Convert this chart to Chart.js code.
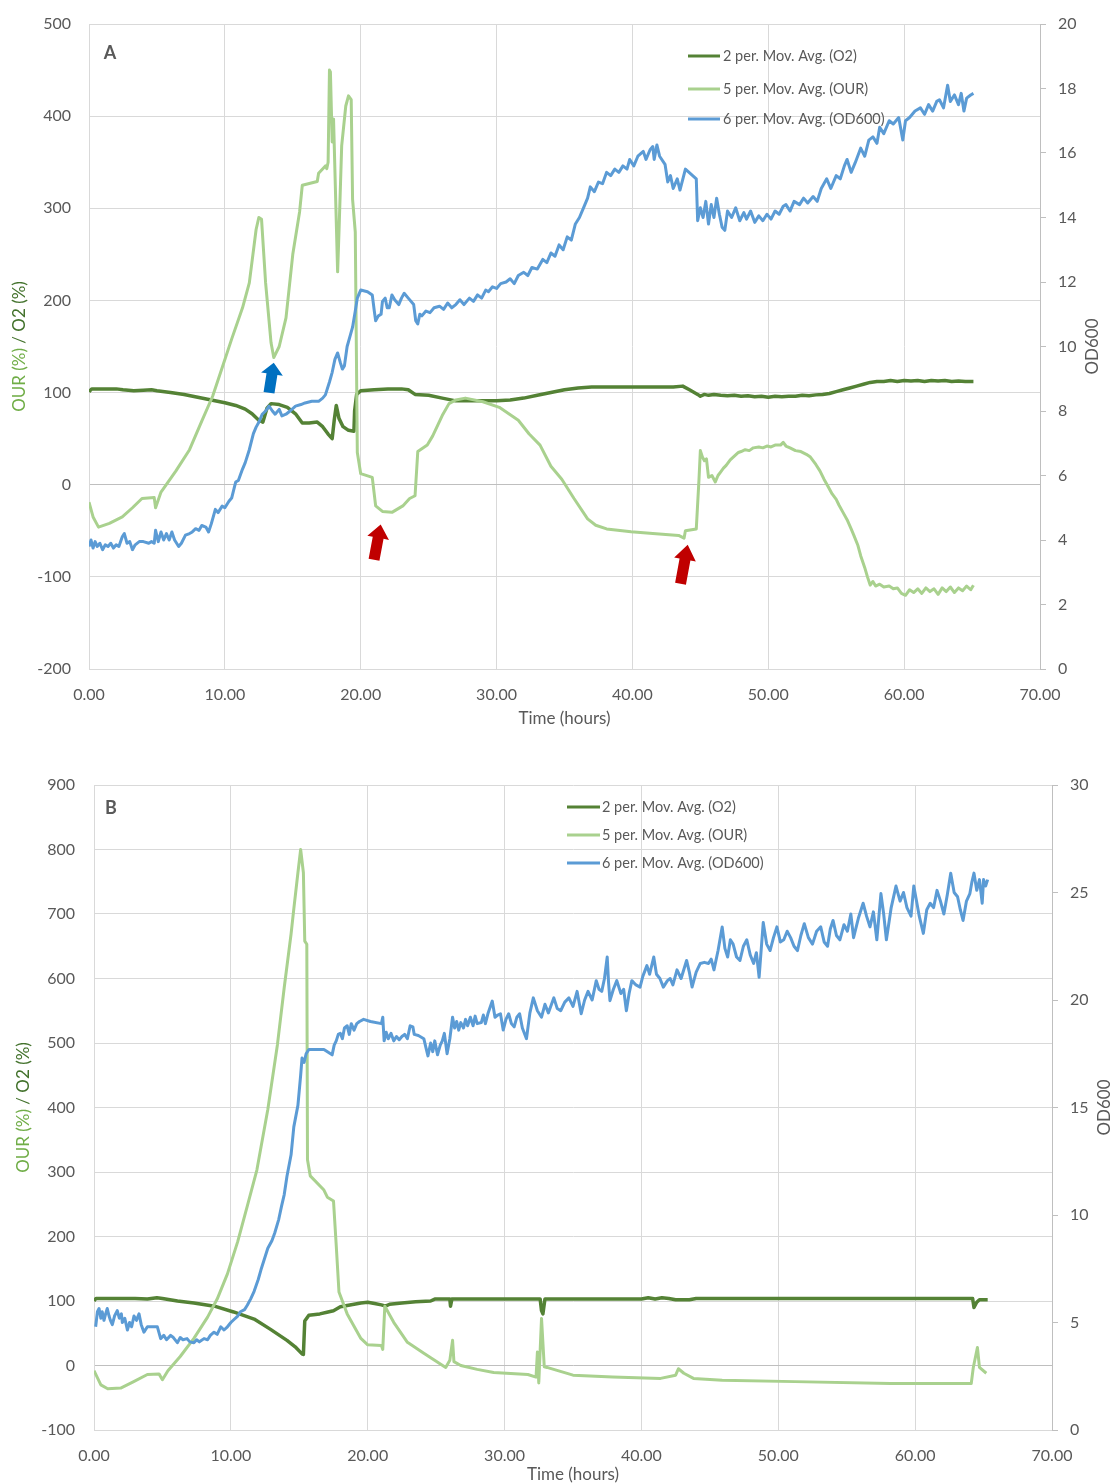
<!DOCTYPE html>
<html>
<head>
<meta charset="utf-8">
<script src="https://cdn.jsdelivr.net/npm/chart.js@4.4.1/dist/chart.umd.min.js"></script>
<style>
  body { margin: 0; background: #fff; }
  canvas { display: block; }
</style>
</head>
<body>
<canvas id="chartA" width="1112" height="745"></canvas>
<canvas id="chartB" width="1112" height="739"></canvas>
<script>
// series labels (same for both runs)
var seriesNames = ['2 per. Mov. Avg. (O2)', '5 per. Mov. Avg. (OUR)', '6 per. Mov. Avg. (OD600)'];

// ---- run A : [time (h), value] ----
var a_o2 = [[0,101],[0.2,104],[1,104],[2,104],[2.5,103],[3.3,102],[4,102.5],[4.6,103],[5,102],[6,100],[7,98],[8,95],[9,92],[10,89],[10.8,86],[11.5,82],[12,77],[12.5,70],[12.8,68],[13.1,83],[13.4,88],[14,87],[14.6,84],[15.2,77],[15.7,67],[16.2,67],[16.8,68],[17.2,63],[17.6,55],[17.9,50],[18.05,70],[18.2,86],[18.4,72],[18.7,63],[19.1,59],[19.5,58],[19.55,80],[19.7,98],[20,102],[21,103],[22,104],[23,104],[23.5,103],[24,98],[25,97],[26,94],[27,91],[28,91],[29,91],[30,91],[31,92],[32,94],[33,97],[34,100],[35,103],[36,105],[37,106],[38,106],[40,106],[42,106],[43,106],[43.7,107],[44.2,103],[44.8,98],[45,96],[45.3,98],[45.6,97],[46,98],[46.5,97],[47,96.5],[47.5,97],[48,96],[48.5,96.5],[49,95.5],[49.5,96],[50,95],[50.5,96],[51,95.5],[51.5,96],[52,96],[52.5,97],[53,96.5],[53.5,97.5],[54,98],[54.5,99],[55,101],[55.5,103],[56,105],[56.5,107],[57,109],[57.5,111],[58,112],[58.5,112],[59,113],[59.5,112],[60,113],[60.5,112.5],[61,113],[61.5,112],[62,113],[62.5,112.5],[63,113],[63.5,112],[64,112.5],[64.5,112],[65.1,112]];

var a_our = [[0,-19],[0.3,-35],[0.7,-46],[1.5,-42],[2.45,-35],[3.2,-25],[3.9,-15],[4.8,-14],[4.9,-25],[5.3,-8],[6.4,15],[7.4,38],[8.3,69],[9.1,96],[9.8,127],[10.5,158],[11.3,192],[11.8,219],[12.3,277],[12.5,290],[12.7,288],[13.0,219],[13.4,154],[13.6,138],[14.0,150],[14.5,181],[15.0,250],[15.5,296],[15.7,325],[16.8,329],[16.9,338],[17.4,346],[17.5,343],[17.6,350],[17.7,450],[17.77,448],[17.9,372],[18.0,397],[18.3,231],[18.4,274],[18.6,368],[18.9,411],[19.1,422],[19.3,418],[19.4,310],[19.6,274],[19.75,35],[20.0,12],[20.85,8],[21.1,-23],[21.6,-29],[22.3,-30],[23.1,-23],[23.6,-15],[24.0,-12],[24.2,36],[24.9,43],[25.3,53],[26.0,75],[26.5,88],[27.0,92],[27.7,94],[29.0,90],[30.2,84],[30.9,77],[31.6,70],[32.4,55],[33.2,43],[34.0,20],[34.8,6],[35.7,-15],[36.7,-37],[37.3,-44],[38.1,-48],[39.9,-51],[41.5,-53],[43.4,-55],[43.8,-58],[43.9,-50],[44.7,-48],[44.9,6],[45.0,37],[45.15,30],[45.3,26],[45.45,28],[45.6,8],[45.85,10],[46.1,3],[46.3,10],[46.5,14],[46.7,18],[46.9,21],[47.2,27],[47.5,31],[47.8,35],[48.0,36],[48.3,38],[48.6,37],[48.9,40],[49.3,41],[49.6,40],[49.9,42],[50.2,41],[50.5,43],[50.9,43],[51.1,46],[51.3,42],[51.6,40],[52.0,37],[52.4,36],[52.8,33],[53.1,30],[53.5,22],[53.8,15],[54.1,6],[54.4,-2],[54.7,-10],[55.0,-16],[55.2,-22],[55.5,-30],[55.8,-38],[56.1,-48],[56.3,-55],[56.6,-66],[56.8,-77],[57.1,-90],[57.3,-100],[57.5,-109],[57.7,-105],[57.9,-110],[58.2,-108],[58.5,-111],[58.9,-110],[59.2,-113],[59.5,-112],[59.8,-118],[60.1,-120],[60.4,-114],[60.7,-117],[61.0,-113],[61.3,-118],[61.6,-112],[61.9,-116],[62.2,-113],[62.5,-119],[62.8,-112],[63.1,-116],[63.4,-111],[63.7,-117],[64.0,-112],[64.3,-115],[64.6,-110],[64.9,-114],[65.1,-109]];

var a_od = [[0,3.8],[0.15,4.0],[0.3,3.75],[0.45,3.95],[0.6,3.8],[0.8,3.9],[1.0,3.7],[1.2,3.85],[1.4,3.8],[1.6,3.9],[1.8,3.75],[2.0,3.85],[2.2,3.8],[2.45,4.1],[2.6,4.2],[2.8,3.9],[3.0,3.95],[3.2,3.7],[3.4,3.85],[3.7,3.95],[4.0,3.95],[4.4,3.9],[4.6,3.95],[4.8,3.9],[4.9,4.3],[5.1,3.95],[5.3,4.25],[5.5,4.0],[5.7,4.2],[5.9,4.0],[6.1,4.25],[6.3,4.0],[6.6,3.8],[6.8,3.9],[7.1,4.15],[7.4,4.2],[7.6,4.25],[7.85,4.35],[8.1,4.3],[8.3,4.45],[8.6,4.4],[8.8,4.25],[9.0,4.5],[9.3,4.95],[9.5,4.85],[9.8,5.05],[10.0,5.0],[10.3,5.2],[10.5,5.3],[10.8,5.8],[11.0,5.85],[11.3,6.2],[11.5,6.4],[11.8,6.8],[12.1,7.3],[12.3,7.5],[12.5,7.65],[12.75,7.9],[13.0,8.0],[13.25,8.15],[13.5,8.0],[13.7,7.9],[14.0,8.05],[14.2,7.85],[14.5,7.9],[14.8,8.0],[15.2,8.15],[15.6,8.2],[15.9,8.25],[16.4,8.3],[16.9,8.3],[17.2,8.4],[17.4,8.5],[17.7,8.9],[17.9,9.2],[18.1,9.6],[18.3,9.8],[18.5,9.5],[18.65,9.3],[18.8,9.4],[19.0,10.0],[19.2,10.3],[19.4,10.6],[19.6,11.1],[19.75,11.5],[20.0,11.75],[20.5,11.7],[20.85,11.6],[21.0,11.1],[21.1,10.8],[21.3,10.95],[21.5,11.0],[21.6,11.4],[21.8,11.5],[21.95,11.2],[22.1,11.2],[22.3,11.6],[22.5,11.45],[22.8,11.3],[23.0,11.5],[23.2,11.65],[23.5,11.5],[23.9,11.3],[24.05,10.8],[24.2,10.7],[24.35,11.0],[24.5,10.95],[24.8,11.1],[25.1,11.05],[25.4,11.2],[25.8,11.25],[26.1,11.15],[26.4,11.35],[26.7,11.2],[27,11.3],[27.3,11.45],[27.6,11.3],[28,11.5],[28.3,11.4],[28.6,11.6],[28.9,11.5],[29.2,11.75],[29.4,11.7],[29.7,11.85],[30.0,11.8],[30.3,11.95],[30.7,12.0],[31.0,12.1],[31.3,11.95],[31.6,12.2],[32.0,12.3],[32.3,12.2],[32.6,12.45],[33.0,12.4],[33.4,12.7],[33.7,12.6],[34.0,12.9],[34.3,12.8],[34.6,13.15],[34.9,13.0],[35.2,13.4],[35.5,13.3],[35.8,13.8],[36.1,14.0],[36.4,14.3],[36.7,14.6],[36.9,14.95],[37.2,14.8],[37.5,15.1],[37.8,15.05],[38.1,15.4],[38.4,15.3],[38.7,15.5],[39.0,15.4],[39.3,15.6],[39.6,15.5],[39.8,15.8],[40.1,15.6],[40.4,15.9],[40.8,16.05],[41.0,15.8],[41.3,16.1],[41.5,16.2],[41.6,15.8],[41.8,16.25],[42.0,15.9],[42.4,15.65],[42.6,15.1],[42.8,15.3],[43.0,14.9],[43.3,15.2],[43.5,14.85],[43.9,15.5],[44.7,15.2],[44.8,13.9],[45.0,14.3],[45.2,14.0],[45.4,14.5],[45.6,13.8],[45.8,14.4],[46.0,14.0],[46.2,14.6],[46.4,14.1],[46.6,13.7],[46.8,13.6],[47.0,14.2],[47.3,14.0],[47.6,14.3],[47.9,13.9],[48.2,14.15],[48.4,13.95],[48.7,14.2],[49.0,13.85],[49.3,14.05],[49.6,13.9],[49.9,14.1],[50.2,13.95],[50.5,14.2],[50.8,14.1],[51.1,14.35],[51.3,14.4],[51.6,14.2],[51.9,14.5],[52.3,14.4],[52.6,14.6],[52.9,14.45],[53.3,14.65],[53.6,14.5],[53.9,14.9],[54.3,15.2],[54.6,14.9],[55.0,15.3],[55.3,15.2],[55.6,15.6],[55.8,15.8],[56.1,15.4],[56.4,15.7],[56.8,16.15],[57.1,15.9],[57.4,16.4],[57.7,16.5],[58.0,16.3],[58.2,16.8],[58.5,16.6],[58.9,17.0],[59.2,16.9],[59.6,17.1],[59.9,16.4],[60.1,17.0],[60.4,17.1],[60.8,17.3],[61.2,17.4],[61.5,17.2],[61.8,17.5],[62.1,17.3],[62.4,17.6],[62.6,17.65],[62.9,17.4],[63.2,18.1],[63.4,17.6],[63.7,17.8],[64.0,17.5],[64.2,17.85],[64.4,17.3],[64.6,17.7],[64.9,17.8],[65.1,17.85]];

// ---- run B : [time (h), value] ----
var b_o2 = [[0,100],[0.15,104],[1,104],[2,104],[3,104],[3.9,103],[4.6,105],[5,104],[6.1,100],[7.3,97],[8.8,92],[10.2,83],[11.7,72],[12.9,56],[14.1,39],[14.7,29],[15.2,18],[15.3,17],[15.4,69],[15.7,78],[16.5,80],[17.1,83],[17.5,85],[18.0,91],[18.5,93],[19.5,97],[20.0,98],[20.5,96],[21.0,94],[21.3,92],[21.6,95],[22.5,97],[23.5,99],[24.6,100],[24.9,103],[26.0,103],[26.05,92],[26.15,103],[28,103],[30,103],[32.6,103],[32.7,85],[32.8,80],[32.95,103],[35,103],[38,103],[40,103],[40.5,105],[41,103],[41.5,105],[42,104],[42.5,102],[43.5,102],[44,104],[47,104],[50,104],[55,104],[60,104],[64.2,104],[64.3,90],[64.5,98],[64.7,102],[65.3,102]];

var b_our = [[0,-8],[0.5,-30],[1.0,-36],[1.95,-35],[2.9,-25],[3.9,-14],[4.75,-13],[5.0,-22],[5.4,-8],[6.3,14],[7.3,42],[8.3,75],[9.0,103],[9.75,142],[10.5,192],[11.2,247],[11.9,303],[12.7,397],[13.4,497],[13.9,586],[14.4,669],[14.6,708],[14.9,764],[15.1,800],[15.3,764],[15.4,658],[15.55,653],[15.6,319],[15.8,294],[16.8,272],[17.05,261],[17.5,255],[17.7,186],[17.9,114],[18.5,80],[19.5,42],[20.0,32],[21.0,31],[21.1,25],[21.25,92],[21.9,67],[22.9,36],[24.1,19],[25.7,-3],[26.0,8],[26.2,39],[26.3,6],[26.8,0],[28.0,-6],[29.2,-11],[31.7,-14],[32.3,-18],[32.4,21],[32.5,-27],[32.7,73],[32.9,-2],[33.1,-3],[35,-15],[37.9,-18],[41.4,-20],[42.5,-15],[42.7,-5],[43.1,-12],[43.8,-20],[45.9,-23],[51.2,-25],[58.2,-28],[64.1,-28],[64.25,-3],[64.55,28],[64.7,-3],[65.2,-12]];

var b_od = [[0.12,4.8],[0.25,5.5],[0.37,5.65],[0.5,5.2],[0.6,5.5],[0.73,5.1],[0.85,5.4],[0.97,5.65],[1.1,5.3],[1.2,5.1],[1.34,4.9],[1.5,5.3],[1.7,5.55],[1.85,5.2],[2.0,5.4],[2.07,5.0],[2.25,5.2],[2.44,4.65],[2.6,5.0],[2.75,4.8],[2.92,5.3],[3.1,5.1],[3.29,5.4],[3.45,4.9],[3.65,4.55],[3.9,4.8],[4.2,4.8],[4.63,4.8],[4.87,4.25],[5.1,4.4],[5.3,4.2],[5.6,4.4],[5.8,4.3],[6.09,4.06],[6.3,4.3],[6.5,4.2],[6.8,4.25],[7.0,4.1],[7.3,4.06],[7.5,4.2],[7.7,4.1],[8.04,4.25],[8.3,4.2],[8.5,4.4],[8.77,4.55],[9.0,4.45],[9.26,4.8],[9.5,4.65],[9.75,4.8],[10.0,5.0],[10.23,5.14],[10.5,5.3],[10.7,5.5],[11.0,5.6],[11.2,5.8],[11.45,6.1],[11.7,6.45],[12.0,7.0],[12.2,7.45],[12.45,7.95],[12.7,8.45],[13.0,8.8],[13.2,9.15],[13.5,9.8],[13.7,10.4],[13.9,10.95],[14.1,11.8],[14.4,12.8],[14.6,14.1],[14.9,15.1],[15.1,16.5],[15.2,17.3],[15.35,17.1],[15.5,17.5],[15.7,17.7],[16.8,17.7],[17.4,17.45],[17.55,17.9],[17.7,18.1],[17.85,18.4],[18.0,18.45],[18.15,18.2],[18.3,18.7],[18.5,18.8],[18.65,18.4],[18.8,18.9],[19.0,18.6],[19.2,18.9],[19.4,19.0],[19.7,19.1],[20.2,19.0],[21.0,18.9],[21.1,19.2],[21.2,18.1],[21.35,18.5],[21.5,18.2],[21.7,18.45],[21.9,18.1],[22.1,18.3],[22.3,18.15],[22.5,18.3],[22.7,18.4],[22.9,18.2],[23.1,18.8],[23.3,18.75],[23.4,18.4],[23.7,18.35],[24.1,18.2],[24.25,17.8],[24.4,17.4],[24.6,18.0],[24.75,17.6],[24.9,18.1],[25.1,17.45],[25.3,17.9],[25.45,18.1],[25.6,18.45],[25.8,17.5],[26.0,18.2],[26.2,19.2],[26.35,18.7],[26.5,19.0],[26.65,18.6],[26.8,18.95],[27.0,18.7],[27.15,19.1],[27.3,18.8],[27.5,19.2],[27.7,18.8],[27.85,19.25],[28.0,18.9],[28.3,18.95],[28.45,19.3],[28.6,18.9],[28.8,19.4],[29.1,19.95],[29.3,19.2],[29.5,19.3],[29.7,19.36],[29.9,18.6],[30.1,19.1],[30.3,19.36],[30.5,18.9],[30.7,18.75],[30.9,19.2],[31.1,19.36],[31.3,18.7],[31.6,18.2],[31.85,19.4],[32.1,20.1],[32.4,19.5],[32.7,19.2],[32.95,19.8],[33.2,19.4],[33.6,20.1],[33.85,19.6],[34.1,19.5],[34.4,19.9],[34.7,20.1],[35.0,19.7],[35.3,20.4],[35.6,19.36],[35.85,20.0],[36.1,20.4],[36.4,20.0],[36.7,20.9],[36.9,20.5],[37.1,20.4],[37.3,21.0],[37.5,22.0],[37.6,20.8],[37.7,19.97],[37.95,20.5],[38.2,20.9],[38.5,20.3],[38.7,20.5],[38.9,19.5],[39.1,20.3],[39.3,20.9],[39.6,20.7],[39.9,20.6],[40.1,21.1],[40.4,21.6],[40.6,21.2],[40.9,22.0],[41.1,21.2],[41.35,21.0],[41.6,20.6],[41.9,20.9],[42.1,21.0],[42.3,20.7],[42.6,21.4],[42.9,21.0],[43.3,21.84],[43.5,21.3],[43.7,20.6],[44.0,21.3],[44.3,21.7],[44.6,21.75],[44.9,21.7],[45.1,21.9],[45.3,21.4],[45.6,22.3],[45.9,23.4],[46.1,22.4],[46.3,22.0],[46.5,22.8],[46.7,22.6],[46.95,22.0],[47.2,21.84],[47.45,22.5],[47.7,22.8],[47.95,22.1],[48.2,21.7],[48.4,22.2],[48.6,21.06],[48.9,23.6],[49.15,22.6],[49.4,22.3],[49.65,22.9],[49.9,23.4],[50.15,22.7],[50.4,22.8],[50.65,23.2],[50.9,22.9],[51.15,22.5],[51.4,22.3],[51.65,23.0],[51.9,23.55],[52.2,22.9],[52.5,22.6],[52.8,23.2],[53.1,23.4],[53.35,22.7],[53.6,22.5],[53.8,23.3],[54.0,23.7],[54.25,23.0],[54.5,22.8],[54.8,23.5],[55.05,23.2],[55.3,24.0],[55.5,22.9],[55.85,23.8],[56.2,24.5],[56.45,23.9],[56.7,23.4],[56.95,24.1],[57.2,22.8],[57.5,24.95],[57.7,24.0],[57.9,22.8],[58.25,24.3],[58.6,25.3],[58.9,24.6],[59.15,25.0],[59.4,24.3],[59.7,23.9],[59.9,25.3],[60.1,24.6],[60.3,23.9],[60.6,23.1],[60.85,24.2],[61.1,24.5],[61.35,24.3],[61.6,25.1],[61.85,24.6],[62.1,24.0],[62.35,24.9],[62.6,25.9],[62.85,25.0],[63.1,24.8],[63.3,24.2],[63.5,23.7],[63.75,24.6],[64.0,24.95],[64.15,25.5],[64.3,25.9],[64.5,25.1],[64.7,25.6],[64.9,24.5],[65.0,25.6],[65.15,25.3],[65.3,25.6]];

// arrows marking events in run A (time, OUR/O2 axis)
var arrowsA = [
  { from: [13.25, 99.8], to: [13.6, 132.4], color: '#0070C0' },
  { from: [20.98, -81.4], to: [21.47, -43.1], color: '#C00000' },
  { from: [43.54, -107.4], to: [44.07, -65.1], color: '#C00000' }
];

var colO2 = '#548235', colOUR = '#A9D18E', colOD = '#5B9BD5';
var textGrey = '#595959';

function pts(arr) { return arr.map(function (p) { return { x: p[0], y: p[1] }; }); }

// axis titles, legend, panel letter and arrows
var decor = {
  id: 'decor',
  afterDatasetsDraw: function (chart, args, o) {
    var ctx = chart.ctx;
    var xs = chart.scales.x, yl = chart.scales.y;
    ctx.save();
    (o.arrows || []).forEach(function (a) {
      var x0 = xs.getPixelForValue(a.from[0]), y0 = yl.getPixelForValue(a.from[1]);
      var x1 = xs.getPixelForValue(a.to[0]), y1 = yl.getPixelForValue(a.to[1]);
      var dx = x1 - x0, dy = y1 - y0, len = Math.sqrt(dx * dx + dy * dy);
      var ux = dx / len, uy = dy / len, nx = -uy, ny = ux;
      var w = 5.5, hw = 11, hl = len * 0.38;
      var bx = x1 - ux * hl, by = y1 - uy * hl;
      ctx.beginPath();
      ctx.moveTo(x0 + nx * w, y0 + ny * w);
      ctx.lineTo(bx + nx * w, by + ny * w);
      ctx.lineTo(bx + nx * hw, by + ny * hw);
      ctx.lineTo(x1, y1);
      ctx.lineTo(bx - nx * hw, by - ny * hw);
      ctx.lineTo(bx - nx * w, by - ny * w);
      ctx.lineTo(x0 - nx * w, y0 - ny * w);
      ctx.closePath();
      ctx.fillStyle = a.color;
      ctx.fill();
    });
    ctx.restore();
  },
  afterDraw: function (chart, args, o) {
    var ctx = chart.ctx, ca = chart.chartArea;
    var midY = (ca.top + ca.bottom) / 2;
    ctx.save();
    ctx.textBaseline = 'middle';

    // panel letter
    ctx.font = 'bold 18px Lato';
    ctx.fillStyle = textGrey;
    ctx.textAlign = 'center';
    ctx.fillText(o.letter, ca.left + o.letterAt[0], ca.top + o.letterAt[1]);

    // x title
    ctx.font = '17px Lato';
    ctx.fillText('Time (hours)', (ca.left + ca.right) / 2, ca.bottom + o.xTitleGap);

    // right title
    ctx.save();
    ctx.translate(ca.right + o.rTitleGap, midY);
    ctx.rotate(-Math.PI / 2);
    ctx.fillText('OD600', 0, 0);
    ctx.restore();

    // left title, two colours
    var p1 = 'OUR (%)', p2 = ' / O2 (%)';
    var w1 = ctx.measureText(p1).width, w2 = ctx.measureText(p2).width;
    ctx.save();
    ctx.translate(ca.left - o.lTitleGap, midY);
    ctx.rotate(-Math.PI / 2);
    ctx.textAlign = 'left';
    ctx.fillStyle = '#70AD47';
    ctx.fillText(p1, -(w1 + w2) / 2, 0);
    ctx.fillStyle = '#43722C';
    ctx.fillText(p2, -(w1 + w2) / 2 + w1, 0);
    ctx.restore();

    // legend
    ctx.font = '14.5px Lato';
    ctx.textAlign = 'left';
    chart.data.datasets.forEach(function (ds, i) {
      var y = ca.top + o.legend.ys[i];
      ctx.beginPath();
      ctx.moveTo(ca.left + o.legend.x0, y);
      ctx.lineTo(ca.left + o.legend.x1, y);
      ctx.strokeStyle = ds.borderColor;
      ctx.lineWidth = 3;
      ctx.stroke();
      ctx.fillStyle = textGrey;
      ctx.fillText(ds.label, ca.left + o.legend.tx, y);
    });
    ctx.restore();
  }
};

// vertical axes: fixed width, and keep the end labels from pushing the plot area in
function fitVertical(width) {
  return function (s) {
    s.width = width;
    s.paddingTop = 10;
    s.paddingBottom = 10;
  };
}

function makeChart(id, cfg) {
  var tickFont = { family: 'Lato', size: 16 };
  return new Chart(document.getElementById(id), {
    type: 'line',
    data: {
      datasets: [
        { label: seriesNames[0], data: pts(cfg.o2), borderColor: colO2, borderWidth: 3.5, yAxisID: 'y', order: 3 },
        { label: seriesNames[1], data: pts(cfg.our), borderColor: colOUR, borderWidth: 3, yAxisID: 'y', order: 2 },
        { label: seriesNames[2], data: pts(cfg.od), borderColor: colOD, borderWidth: 3, yAxisID: 'y2', order: 1 }
      ]
    },
    options: {
      responsive: false,
      animation: false,
      parsing: false,
      elements: { point: { radius: 0 }, line: { tension: 0, borderJoinStyle: 'round' } },
      layout: { padding: { top: cfg.padTop, left: 0, right: 0, bottom: 0 } },
      scales: {
        x: {
          type: 'linear', min: 0, max: 70,
          ticks: { stepSize: 10, color: textGrey, font: tickFont, padding: 16, maxRotation: 0,
                   callback: function (v) { return v.toFixed(2); } },
          grid: { color: '#D9D9D9', drawTicks: false },
          border: { display: true, color: '#D9D9D9' },
          afterFit: function (s) { s.height = cfg.xH; }
        },
        y: {
          position: 'left', min: cfg.yMin, max: cfg.yMax,
          ticks: { stepSize: 100, color: textGrey, font: tickFont, padding: cfg.lPad },
          grid: { drawTicks: false, color: function (c) { return c.tick && c.tick.value === 0 ? '#BFBFBF' : '#D9D9D9'; } },
          border: { display: true, color: '#D9D9D9' },
          afterFit: fitVertical(cfg.lW)
        },
        y2: {
          position: 'right', min: 0, max: cfg.odMax,
          ticks: { stepSize: cfg.odStep, color: textGrey, font: tickFont, padding: 12 },
          grid: { drawOnChartArea: false, drawTicks: true, tickLength: 6, tickColor: '#BFBFBF' },
          border: { display: true, color: '#BFBFBF' },
          afterFit: fitVertical(cfg.rW)
        }
      },
      plugins: {
        legend: { display: false },
        tooltip: { enabled: false },
        decor: cfg.decor
      }
    },
    plugins: [decor]
  });
}

makeChart('chartA', {
  o2: a_o2, our: a_our, od: a_od,
  yMin: -200, yMax: 500, odMax: 20, odStep: 2,
  padTop: 24, xH: 76, lW: 89, rW: 72, lPad: 18,
  decor: {
    letter: 'A', letterAt: [21, 29],
    xTitleGap: 50, lTitleGap: 69, rTitleGap: 53,
    legend: { x0: 599, x1: 631, tx: 634, ys: [32, 65, 95] },
    arrows: arrowsA
  }
});

makeChart('chartB', {
  o2: b_o2, our: b_our, od: b_od,
  yMin: -100, yMax: 900, odMax: 30, odStep: 5,
  padTop: 40, xH: 54, lW: 94, rW: 60, lPad: 19,
  decor: {
    letter: 'B', letterAt: [17, 23],
    xTitleGap: 45, lTitleGap: 70, rTitleGap: 53,
    legend: { x0: 473, x1: 506, tx: 508, ys: [22, 50, 78] },
    arrows: []
  }
});
</script>
</body>
</html>
